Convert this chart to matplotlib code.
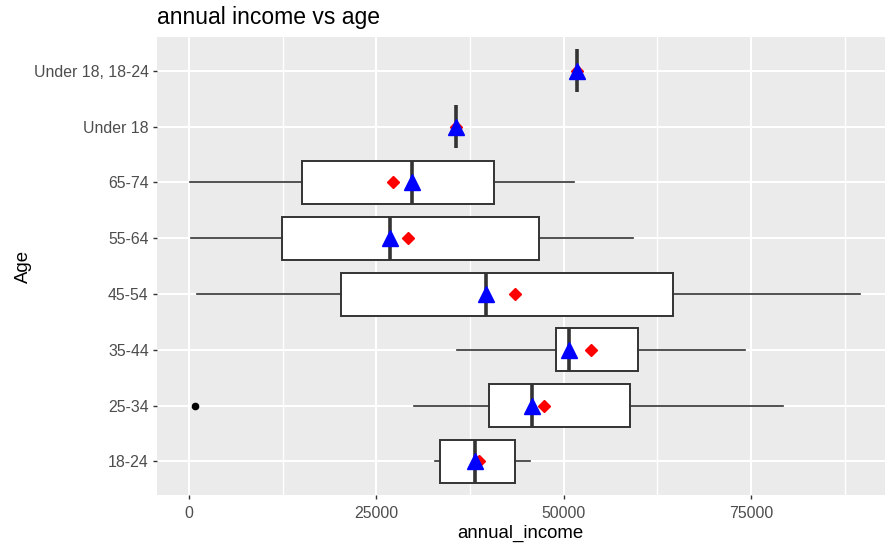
import matplotlib
matplotlib.use("Agg")
import matplotlib.pyplot as plt
import numpy as np

plt.rcParams['font.family'] = ['Liberation Sans', 'DejaVu Sans']

# age groups, bottom to top
age_groups = ['18-24', '25-34', '35-44', '45-54', '55-64', '65-74',
              'Under 18', 'Under 18, 18-24']

# box statistics for annual_income per group
whisker_low = [32800, 30000, 35800, 1000, 300, 100, 35600, 51800]
quart_1 = [33500, 40000, 49000, 20200, 12400, 15000, 35600, 51800]
medians = [38200, 45800, 50700, 39600, 26800, 29800, 35600, 51800]
quart_3 = [43500, 58800, 59900, 64600, 46700, 40700, 35600, 51800]
whisker_high = [45500, 79300, 74200, 89500, 59300, 51400, 35600, 51800]
means = [38700, 47400, 53600, 43500, 29200, 27200, 35600, 51800]
outliers = [[], [800], [], [], [], [], [], []]

x_ticks = [0, 25000, 50000, 75000]


def main():
    fig = plt.figure(figsize=(8.85, 5.44), dpi=100)
    ax = fig.add_axes([0.177, 0.0901, 0.823, 0.8413])
    ax.set_facecolor('#EBEBEB')

    stats = []
    for i in range(len(age_groups)):
        stats.append(dict(whislo=whisker_low[i], q1=quart_1[i], med=medians[i],
                          q3=quart_3[i], whishi=whisker_high[i],
                          fliers=outliers[i], label=age_groups[i]))

    pos = np.arange(1, len(age_groups) + 1)
    ax.bxp(stats, positions=pos, widths=0.77, orientation='horizontal',
           patch_artist=True, showcaps=False, showfliers=True,
           boxprops=dict(facecolor='white', edgecolor='#333333', linewidth=1.4),
           medianprops=dict(color='#333333', linewidth=2.6, solid_capstyle='butt'),
           whiskerprops=dict(color='#333333', linewidth=1.2),
           flierprops=dict(marker='o', markerfacecolor='black', markeredgecolor='black',
                           markersize=4.5),
           zorder=3)

    # mean (red diamond) then median (blue triangle) on top
    ax.plot(means, pos, linestyle='none', marker='D', markersize=6.5,
            color='red', zorder=5)
    ax.plot(medians, pos, linestyle='none', marker='^', markersize=11,
            color='blue', zorder=6)

    ax.set_xlim(-4350, 92900)
    ax.set_ylim(0.4, len(age_groups) + 0.6)
    ax.set_xticks(x_ticks)
    ax.set_xticks([12500, 37500, 62500, 87500], minor=True)
    ax.set_yticks(pos)
    ax.set_yticklabels(age_groups)
    ax.set_xticklabels([str(t) for t in x_ticks])

    ax.grid(which='major', color='white', linewidth=1.5, zorder=0)
    ax.grid(which='minor', axis='x', color='white', linewidth=1.0, zorder=0)
    ax.set_axisbelow(True)
    for s in ax.spines.values():
        s.set_visible(False)
    ax.tick_params(which='major', length=2.7, width=1.0, color='#333333',
                   labelsize=11.4, labelcolor='#4D4D4D', pad=3)
    ax.tick_params(axis='x', which='major', pad=5)
    ax.tick_params(which='minor', length=0)

    ax.set_xlabel('annual_income', fontsize=13.4, va='center')
    ax.set_ylabel('Age', fontsize=13.4)
    ax.xaxis.set_label_coords(0.5, -0.083)
    ax.yaxis.set_label_coords(-0.171, 0.5)

    fig.text(0.177, 0.967, 'annual income vs age', fontsize=16.5,
             ha='left', va='center')

    fig.savefig('out.png', dpi=100)


if __name__ == "__main__":
    main()
